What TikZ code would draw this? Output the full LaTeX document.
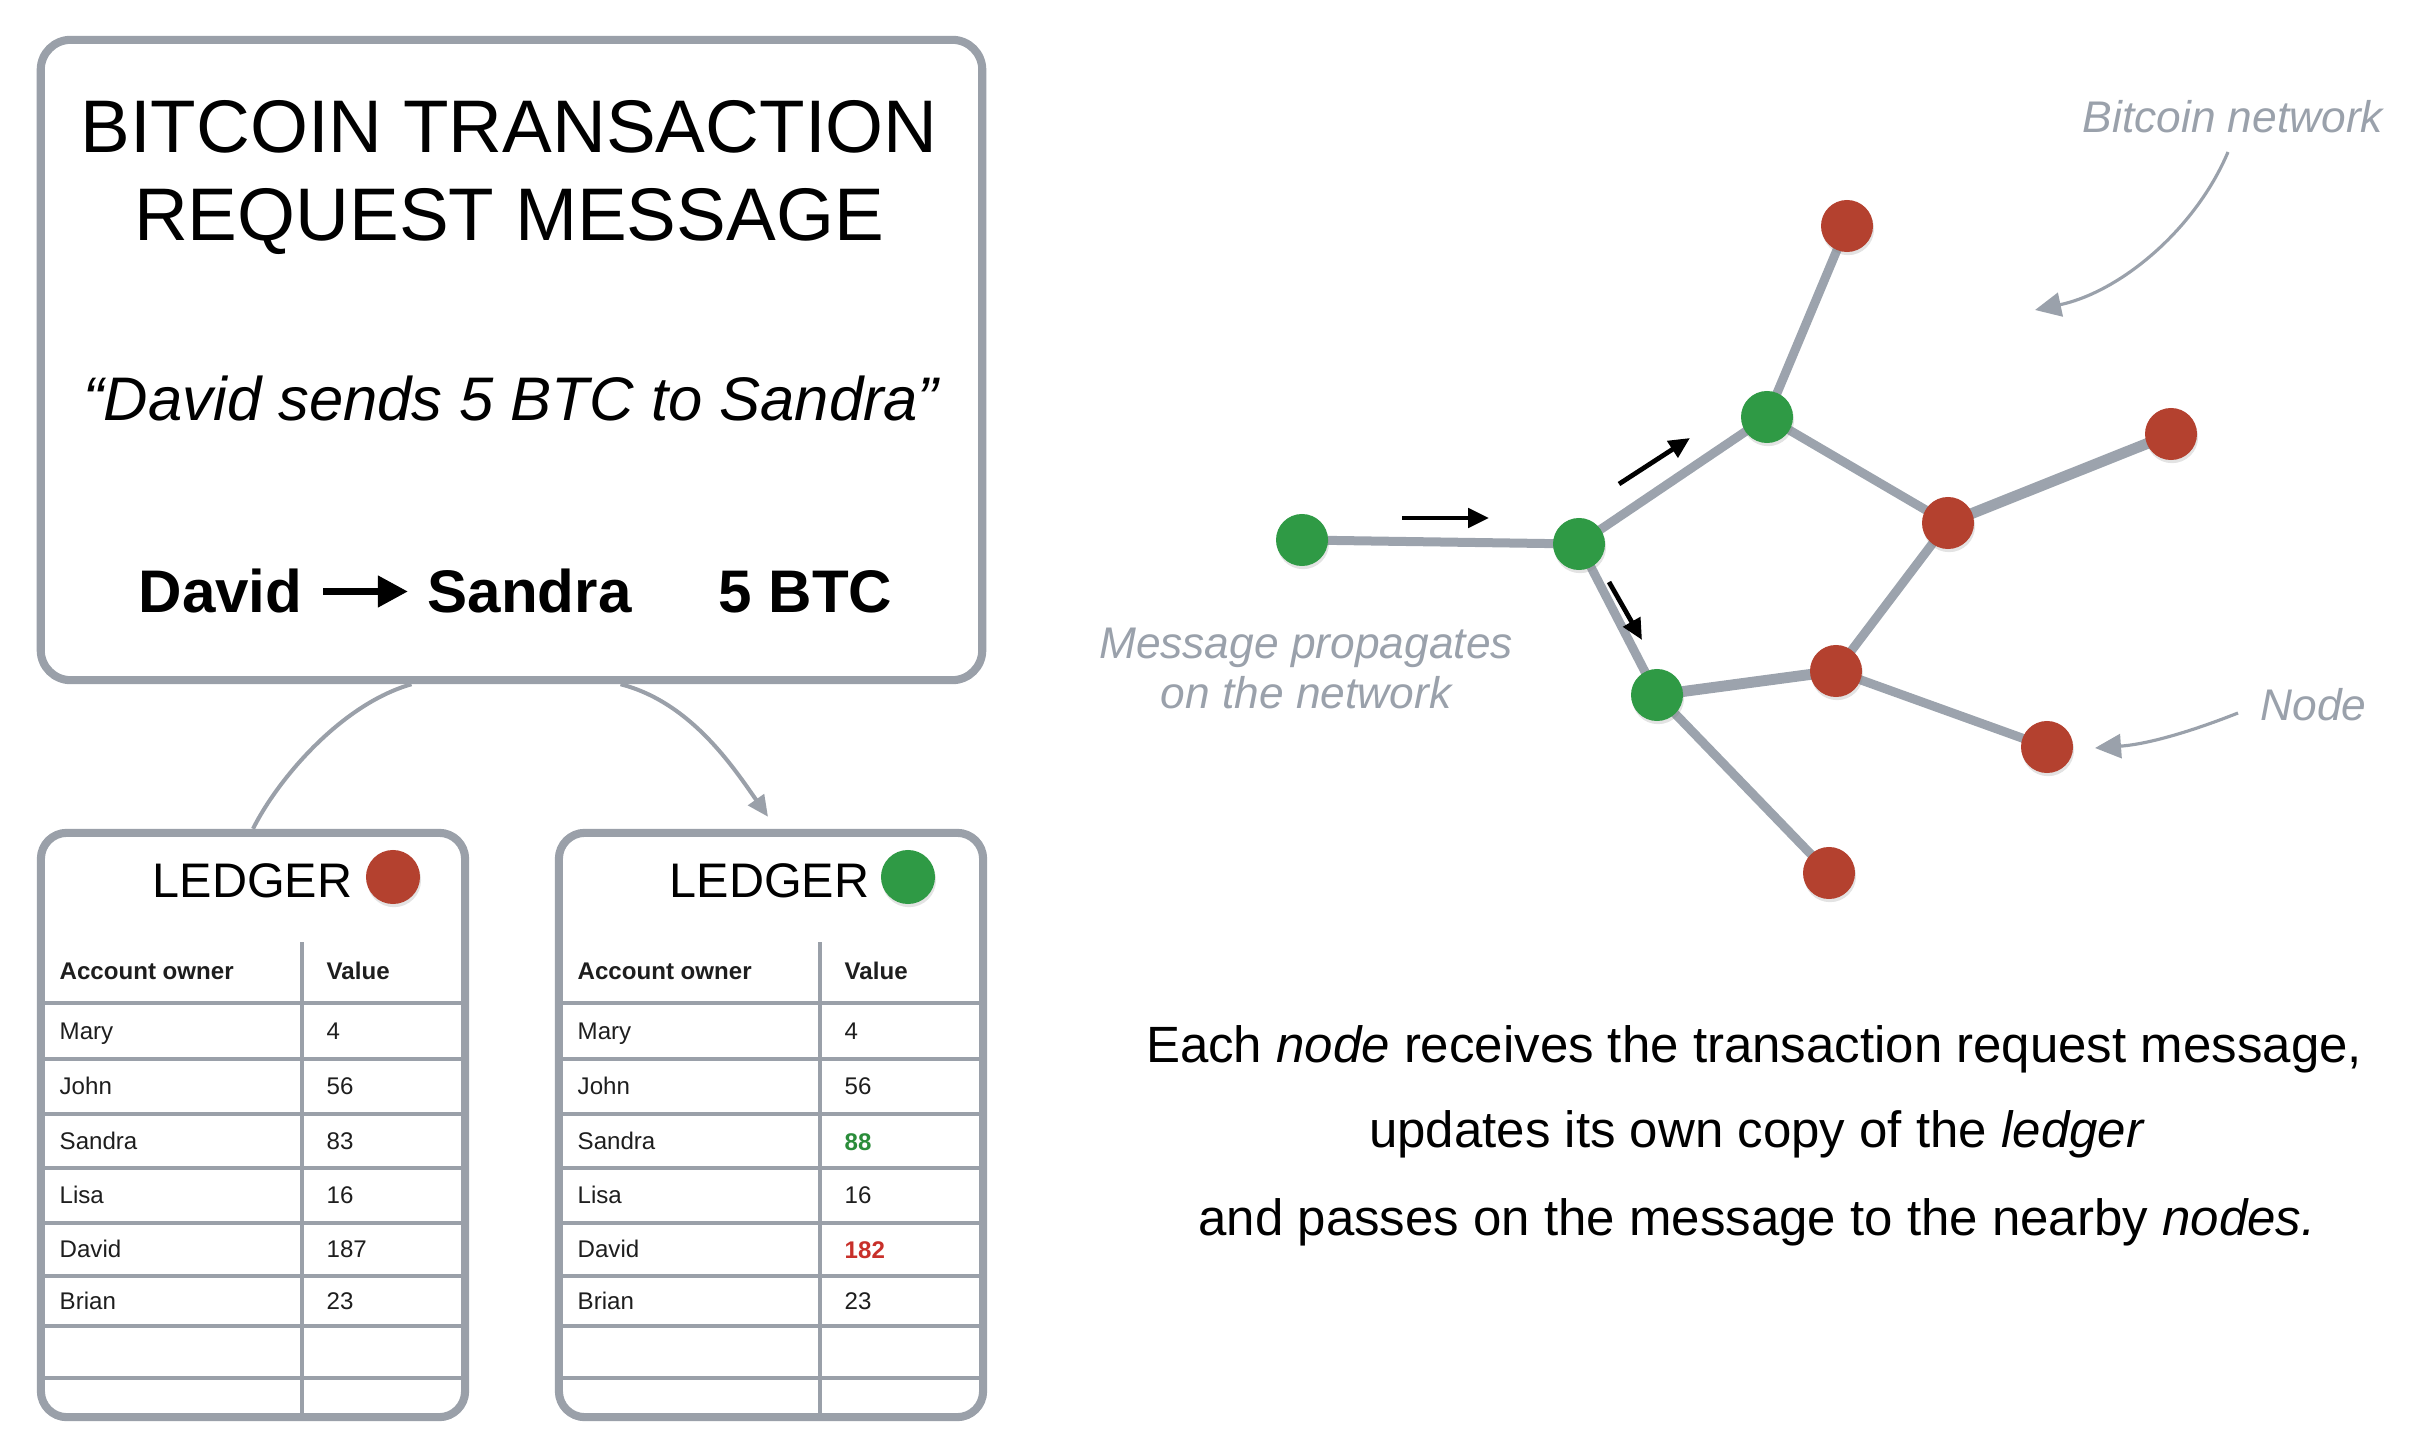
\documentclass[tikz,border=0pt]{standalone}
\usepackage{fontspec}
\setmainfont{Liberation Sans}
\usetikzlibrary{arrows.meta,shadows}
\definecolor{bord}{HTML}{9AA0A9}
\definecolor{edgec}{HTML}{9CA3AD}
\definecolor{nred}{HTML}{B4412F}
\definecolor{ngreen}{HTML}{2F9A45}
\definecolor{lblc}{HTML}{9AA1AB}
\definecolor{valgreen}{HTML}{2A8C3A}
\definecolor{valred}{HTML}{C8302A}
\definecolor{tabtext}{HTML}{1E1E1E}
\newcommand\ftitle{\fontsize{21.2}{25}\selectfont}
\newcommand\fquote{\fontsize{17.5}{21}\selectfont\itshape}
\newcommand\fbig{\fontsize{17.1}{20}\selectfont\bfseries}
\newcommand\fledger{\fontsize{13.8}{16}\selectfont}
\newcommand\ftab{\fontsize{6.85}{8.2}\selectfont}
\newcommand\fbody{\fontsize{14.5}{17}\selectfont}
\newcommand\flbl{\fontsize{12.6}{14.2}\selectfont\itshape}
\begin{document}
\begin{tikzpicture}[x=0.01cm,y=-0.01cm,
  box/.style={draw=bord, line width=2.3pt, rounded corners=3mm, fill=white, inner sep=0pt},
  txt/.style={inner sep=0pt, anchor=base},
  txtw/.style={inner sep=0pt, anchor=base west},
  tline/.style={draw=bord, line width=1pt},
  edge/.style={draw=edgec, line width=2.56pt},
  thickedge/.style={draw=edgec, line width=3.1pt},
  dot/.style={circle, inner sep=0pt, minimum size=5.2mm,
     drop shadow={opacity=0.22, shadow xshift=0.3pt, shadow yshift=-0.9pt}},
  rnode/.style={dot, fill=nred},
  gnode/.style={dot, fill=ngreen},
  prop/.style={draw=black, line width=1.35pt, -{Triangle[length=2.1mm,width=1.9mm]}},
  annot/.style={draw=lblc, line width=0.9pt, -{Triangle[length=2.6mm,width=2.4mm]}},
  conn/.style={draw=bord, line width=1.15pt, -{Triangle[length=2.1mm,width=1.9mm]}},
  lbl/.style={inner sep=0pt, text=lblc, font=\flbl}
]
\useasboundingbox (0,0) rectangle (2430,1452);

% message box
\node[box, minimum width=9.41cm, minimum height=6.4cm] (msg) at (511.5,360) {};
\node[txt, font=\ftitle] (t1) at (509,153) {BITCOIN TRANSACTION};
\node[txt, font=\ftitle] (t2) at (509,241) {REQUEST MESSAGE};
\node[txt, font=\fquote] (quote) at (511,421) {“David sends 5 BTC to Sandra”};
\node[txtw, font=\fbig] (david) at (138,613) {David};
\node[txtw, font=\fbig] (sandra) at (427,613) {Sandra};
\node[txtw, font=\fbig] (btc) at (718,613) {5 BTC};
\draw[draw=black, line width=2pt, -{Triangle[length=3mm,width=3mm]},
      shorten <=2mm, shorten >=1.9mm] (david.east) -- (sandra.west);

% ledger boxes
\node[box, rounded corners=2.6mm, minimum width=4.24cm, minimum height=5.84cm] (ledL) at (253,1125) {};
\node[box, rounded corners=2.6mm, minimum width=4.24cm, minimum height=5.84cm] (ledR) at (771,1125) {};

% connectors from message to ledgers
\draw[draw=bord, line width=1.15pt] (ledL.north) .. controls +(25,-50) and +(-70,20) .. ([xshift=-1cm]msg.south);
\draw[conn] ([xshift=1.09cm]msg.south) .. controls +(70,18) and +(-35,-50) .. ([xshift=-0.3mm,yshift=1.2mm]ledR.north);

% ledger titles
\node[txtw, font=\fledger] (lgL) at (152,897) {LEDGER};
\node[rnode, minimum size=5.4mm] (cL) at (393,877) {};
\node[txtw, font=\fledger] (lgR) at (669,897) {LEDGER};
\node[gnode, minimum size=5.4mm] (cR) at (908,877) {};

% tables
\foreach \dx/\lid in {0/L,518/R} {
  \foreach \yy in {1003,1059,1114,1168,1223,1276,1326,1378}
    \draw[tline] (41+\dx,\yy) -- (465+\dx,\yy);
  \draw[tline] (302+\dx,942) -- (302+\dx,1413);
  \node[txtw, font=\ftab\bfseries, text=tabtext] (acc\lid) at (59+\dx,979) {Account owner};
  \node[txtw, font=\ftab\bfseries, text=tabtext] (val\lid) at (326+\dx,979) {Value};
  \foreach \nm/\yb [count=\i] in {Mary/1039,John/1094,Sandra/1149,Lisa/1203,David/1257,Brian/1309}
    \node[txtw, font=\ftab, text=tabtext] (nm\lid\i) at (59+\dx,\yb) {\nm};
}
\foreach \v/\yb [count=\i] in {4/1039,56/1094,83/1149,16/1203,187/1257,23/1309}
  \node[txtw, font=\ftab, text=tabtext] (vL\i) at (326,\yb) {\v};
\node[txtw, font=\ftab, text=tabtext] (vR1) at (844,1039) {4};
\node[txtw, font=\ftab, text=tabtext] (vR2) at (844,1094) {56};
\node[txtw, font=\ftab\bfseries, text=valgreen] (vR3) at (844,1150) {88};
\node[txtw, font=\ftab, text=tabtext] (vR4) at (844,1203) {16};
\node[txtw, font=\ftab\bfseries, text=valred] (vR5) at (844,1258) {182};
\node[txtw, font=\ftab, text=tabtext] (vR6) at (844,1309) {23};

% network edges (drawn under nodes)
\coordinate (pg1) at (1302,540);
\coordinate (pg2) at (1579,544);
\coordinate (pg3) at (1767,417);
\coordinate (pg4) at (1657,695);
\coordinate (prtop) at (1847,226);
\coordinate (prright) at (2171,434);
\coordinate (prmid) at (1948,523);
\coordinate (prlow) at (1836,671);
\coordinate (prnode) at (2047,747);
\coordinate (prbot) at (1829,873);
\draw[edge] (pg1) -- (pg2);
\draw[edge] (pg2) -- (pg3);
\draw[edge] (pg2) -- (pg4);
\draw[edge] (pg3) -- (prtop);
\draw[edge] (pg3) -- (prmid);
\draw[thickedge] (prmid) -- (prright);
\draw[edge] (prmid) -- (prlow);
\draw[thickedge] (pg4) -- (prlow);
\draw[edge] (prlow) -- (prnode);
\draw[edge] (pg4) -- (prbot);

% network nodes
\node[gnode] (g1) at (pg1) {};
\node[gnode] (g2) at (pg2) {};
\node[gnode] (g3) at (pg3) {};
\node[gnode] (g4) at (pg4) {};
\node[rnode] (rtop) at (prtop) {};
\node[rnode] (rright) at (prright) {};
\node[rnode] (rmid) at (prmid) {};
\node[rnode] (rlow) at (prlow) {};
\node[rnode] (rnd) at (prnode) {};
\node[rnode] (rbot) at (prbot) {};

% propagation arrows
\coordinate (a1s) at (1402,518); \coordinate (a1e) at (1489,518);
\coordinate (a2s) at (1619,484); \coordinate (a2e) at (1690,438);
\coordinate (a3s) at (1609,582); \coordinate (a3e) at (1642,640);
\draw[prop] (a1s) -- (a1e);
\draw[prop] (a2s) -- (a2e);
\draw[prop] (a3s) -- (a3e);

% gray labels
\node[lbl, anchor=base west] (bnet) at (2082,133) {Bitcoin network};
\node[lbl, anchor=base] (mp1) at (1306,658) {Message propagates};
\node[lbl, anchor=base] (mp2) at (1306,708) {on the network};
\node[lbl, anchor=base west] (nodelbl) at (2260,720) {Node};
\coordinate (bnA) at (2228,152);
\coordinate (bnB) at (2035,310);
\draw[annot] (bnA) .. controls (2195,230) and (2120,292) .. (bnB);
\coordinate (ndA) at (2238,713);
\coordinate (ndB) at (2095,748);
\draw[annot] (ndA) .. controls (2195,730) and (2150,744) .. (ndB);

% body text
\node[txt, font=\fbody] (b1) at (1754,1062) {Each \textit{node} receives the transaction request message,};
\node[txt, font=\fbody] (b2) at (1757,1147) {updates its own copy of the \textit{ledger}};
\node[txt, font=\fbody] (b3) at (1757,1235) {and passes on the message to the nearby \textit{nodes.}};
\end{tikzpicture}
\end{document}
